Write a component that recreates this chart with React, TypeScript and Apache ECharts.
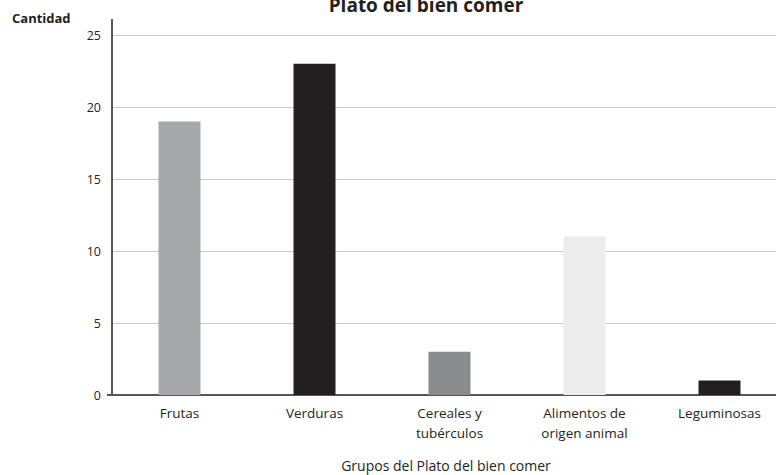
import React, { useEffect, useRef } from "react";
import * as echarts from "echarts";

const categories = ["Frutas", "Verduras", "Cereales y\ntubérculos", "Alimentos de\norigen animal", "Leguminosas"];
const values = [19, 23, 3, 11, 1];
const barColors = ["#a7a8ab", "#231f20", "#8a8b8d", "#ececec", "#231f20"];
const yTicks = [0, 5, 10, 15, 20, 25];

const FONT = "'Open Sans', 'Noto Sans', sans-serif";
const TXT = "#231f20";

export default function App() {
  const ref = useRef<HTMLDivElement>(null);
  useEffect(() => {
    if (!ref.current) return;
    const chart = echarts.init(ref.current, undefined, { renderer: "svg" });
    chart.setOption({
      animation: false,
      backgroundColor: "#ffffff",
      grid: { left: 112, right: 3, top: 35, bottom: 80, containLabel: false },
      graphic: [
        {
          type: "text",
          x: 426,
          y: 14,
          style: {
            text: "Plato del bien comer",
            fontFamily: FONT,
            fontSize: 19,
            fontWeight: "bold",
            fill: TXT,
            align: "center",
            verticalAlign: "bottom",
          },
        },
        {
          type: "text",
          x: 12,
          y: 18,
          style: {
            text: "Cantidad",
            fontFamily: FONT,
            fontSize: 13,
            fontWeight: "bold",
            fill: TXT,
            verticalAlign: "middle",
          },
        },
        {
          type: "text",
          x: 446,
          y: 465,
          style: {
            text: "Grupos del Plato del bien comer",
            fontFamily: FONT,
            fontSize: 14,
            fontWeight: 500,
            fill: TXT,
            align: "center",
            verticalAlign: "middle",
          },
        },
        {
          type: "line",
          shape: { x1: 112, y1: 19, x2: 112, y2: 36 },
          style: { stroke: "#555555", lineWidth: 2 },
        },
        {
          type: "line",
          shape: { x1: 107, y1: 395, x2: 112, y2: 395 },
          style: { stroke: "#555555", lineWidth: 2 },
        },
      ],
      xAxis: {
        type: "category",
        data: categories,
        axisLine: { show: true, lineStyle: { color: "#555555", width: 2 } },
        axisTick: { show: false },
        axisLabel: { color: TXT, fontFamily: FONT, fontSize: 13.5, margin: 8, lineHeight: 20, interval: 0 },
      },
      yAxis: {
        type: "value",
        min: 0,
        max: 25,
        interval: 5,
        axisLine: { show: true, lineStyle: { color: "#555555", width: 2 } },
        axisTick: { show: false },
        axisLabel: {
          color: TXT,
          fontFamily: FONT,
          fontSize: 12.5,
          margin: 11,
          formatter: (v: number) => (yTicks.includes(v) ? String(v) : ""),
        },
        splitLine: { show: true, lineStyle: { color: "#c8c8c8", width: 1 } },
      },
      series: [
        {
          type: "bar",
          data: values.map((v, i) => ({ value: v, itemStyle: { color: barColors[i] } })),
          barWidth: 42,
        },
      ],
    });
    return () => chart.dispose();
  }, []);
  return (
    <div style={{ width: 776, height: 475, position: "absolute", left: 0, top: 0, overflow: "hidden", background: "#fff" }}>
      <div ref={ref} style={{ width: 790, height: 475 }} />
    </div>
  );
}
